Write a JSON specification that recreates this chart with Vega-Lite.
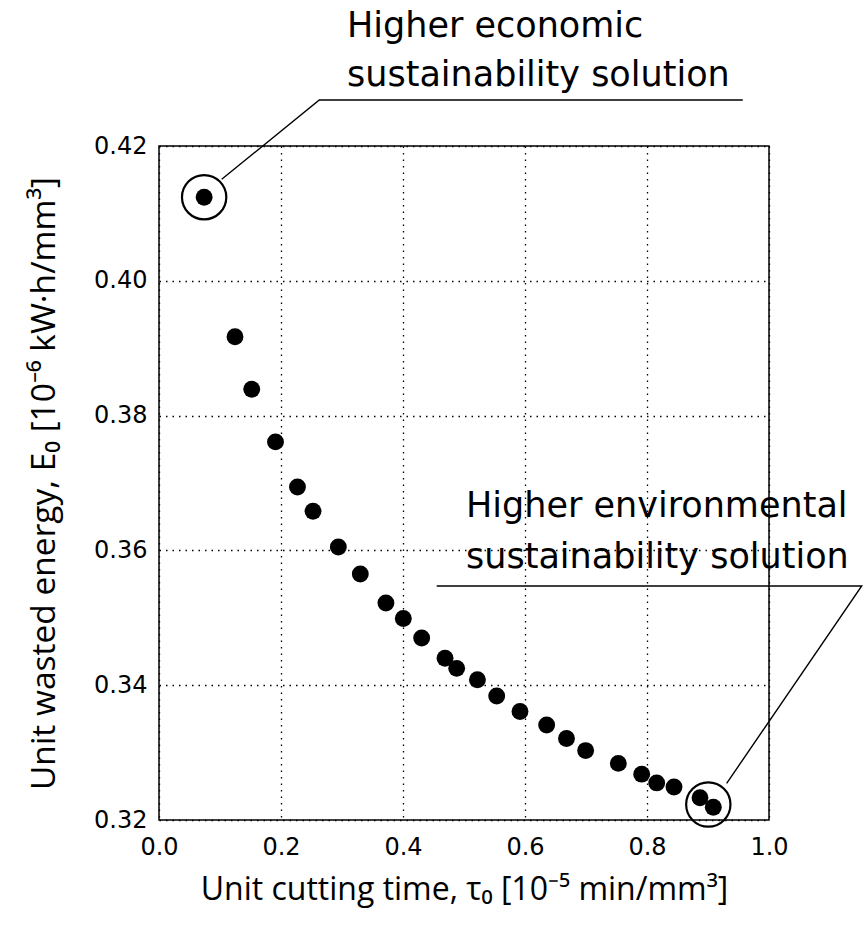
{
  "$schema": "https://vega.github.io/schema/vega-lite/v6.json",
  "width": 610,
  "height": 674,
  "autosize": {"type": "none"},
  "padding": {"left": 159, "top": 146, "right": 97, "bottom": 110},
  "background": "white",
  "config": {
    "view": {"stroke": "black", "strokeWidth": 1.5},
    "axis": {
      "domain": false,
      "ticks": false,
      "grid": true,
      "gridColor": "black",
      "gridDash": [1.5, 5],
      "gridWidth": 1.3,
      "gridOpacity": 1,
      "labelFont": "DejaVu Sans",
      "labelFontSize": 24,
      "labelColor": "black",
      "labelFlush": false,
      "labelOverlap": false,
      "titleFont": "Open Sans",
      "titleFontSize": 32,
      "titleFontWeight": "normal",
      "titleColor": "black"
    }
  },
  "datasets": {
    "pts": [
      {"tau": 0.074, "E": 0.4124},
      {"tau": 0.1246, "E": 0.3917},
      {"tau": 0.152, "E": 0.3839},
      {"tau": 0.191, "E": 0.3761},
      {"tau": 0.227, "E": 0.3694},
      {"tau": 0.2525, "E": 0.3658},
      {"tau": 0.294, "E": 0.3605},
      {"tau": 0.330, "E": 0.3565},
      {"tau": 0.372, "E": 0.3522},
      {"tau": 0.4005, "E": 0.3499},
      {"tau": 0.4306, "E": 0.3470},
      {"tau": 0.4689, "E": 0.3440},
      {"tau": 0.488, "E": 0.3425},
      {"tau": 0.522, "E": 0.3408},
      {"tau": 0.5536, "E": 0.3384},
      {"tau": 0.5918, "E": 0.3361},
      {"tau": 0.6355, "E": 0.3341},
      {"tau": 0.668, "E": 0.3321},
      {"tau": 0.6994, "E": 0.3303},
      {"tau": 0.7530, "E": 0.3284},
      {"tau": 0.7913, "E": 0.3268},
      {"tau": 0.8159, "E": 0.3255},
      {"tau": 0.8443, "E": 0.3249},
      {"tau": 0.8869, "E": 0.3233},
      {"tau": 0.9087, "E": 0.3219}
    ],
    "leaders": [
      {"g": "econ", "o": 0, "tau": 0.1028, "E": 0.41506},
      {"g": "econ", "o": 1, "tau": 0.2628, "E": 0.42683},
      {"g": "econ", "o": 2, "tau": 0.957, "E": 0.42683},
      {"g": "env", "o": 0, "tau": 0.4552, "E": 0.35472},
      {"g": "env", "o": 1, "tau": 1.152, "E": 0.35472},
      {"g": "env", "o": 2, "tau": 0.9306, "E": 0.32544}
    ],
    "one": [{}]
  },
  "layer": [
    {
      "data": {"name": "pts"},
      "mark": {"type": "circle", "color": "black", "opacity": 1, "size": 285},
      "encoding": {
        "x": {
          "field": "tau", "type": "quantitative",
          "scale": {"domain": [0, 1], "nice": false, "zero": false},
          "axis": {
            "values": [0, 0.2, 0.4, 0.6, 0.8, 1.0],
            "format": ".1f",
            "labelPadding": 15,
            "titlePadding": 15,
            "title": "Unit cutting time, τ₀ [10⁻⁵ min/mm³]"
          }
        },
        "y": {
          "field": "E", "type": "quantitative",
          "scale": {"domain": [0.32, 0.42], "nice": false, "zero": false},
          "axis": {
            "values": [0.32, 0.34, 0.36, 0.38, 0.40, 0.42],
            "format": ".2f",
            "labelPadding": 12,
            "titlePadding": 32,
            "titleFontSize": 33.5,
            "title": "Unit wasted energy, E₀ [10⁻⁶ kW·h/mm³]"
          }
        }
      }
    },
    {
      "data": {"name": "leaders"},
      "mark": {"type": "line", "color": "black", "strokeWidth": 1.4, "clip": false},
      "encoding": {
        "x": {"field": "tau", "type": "quantitative"},
        "y": {"field": "E", "type": "quantitative"},
        "detail": {"field": "g"},
        "order": {"field": "o"}
      }
    },
    {
      "data": {"name": "one"},
      "mark": {"type": "point", "filled": false, "stroke": "black", "strokeWidth": 2.2, "size": 1963, "opacity": 1},
      "encoding": {"x": {"datum": 0.074}, "y": {"datum": 0.4124}}
    },
    {
      "data": {"name": "one"},
      "mark": {"type": "point", "filled": false, "stroke": "black", "strokeWidth": 2.2, "size": 1963, "opacity": 1},
      "encoding": {"x": {"datum": 0.9005}, "y": {"datum": 0.3223}}
    },
    {
      "data": {"name": "one"},
      "mark": {"type": "text", "align": "left", "baseline": "alphabetic", "font": "DejaVu Sans", "fontSize": 35, "color": "black", "text": "Higher economic"},
      "encoding": {"x": {"datum": 0.3082}, "y": {"datum": 0.43618}}
    },
    {
      "data": {"name": "one"},
      "mark": {"type": "text", "align": "left", "baseline": "alphabetic", "font": "DejaVu Sans", "fontSize": 35, "color": "black", "text": "sustainability solution"},
      "encoding": {"x": {"datum": 0.3082}, "y": {"datum": 0.4289}}
    },
    {
      "data": {"name": "one"},
      "mark": {"type": "text", "align": "left", "baseline": "alphabetic", "font": "DejaVu Sans", "fontSize": 35, "color": "black", "text": "Higher environmental"},
      "encoding": {"x": {"datum": 0.5033}, "y": {"datum": 0.36496}}
    },
    {
      "data": {"name": "one"},
      "mark": {"type": "text", "align": "left", "baseline": "alphabetic", "font": "DejaVu Sans", "fontSize": 35, "color": "black", "text": "sustainability solution"},
      "encoding": {"x": {"datum": 0.5033}, "y": {"datum": 0.35739}}
    }
  ]
}
